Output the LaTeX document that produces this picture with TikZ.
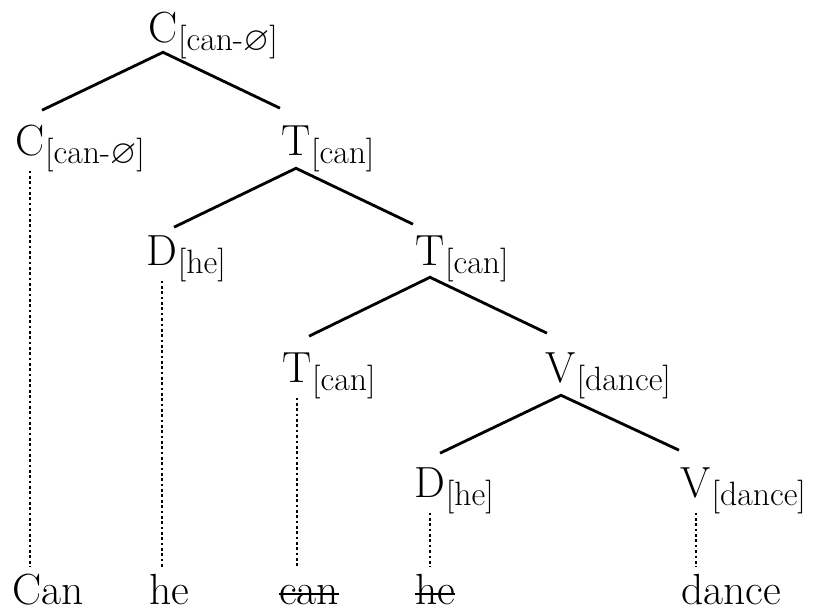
\documentclass[tikz,border=0pt]{standalone}
\usepackage{amsmath,amssymb}
\usepackage{tikz}
\usetikzlibrary{calc}
\newcommand{\struck}[1]{\sbox0{#1}\rlap{\usebox0}\rule[0.5ex]{\wd0}{1.4pt}}

\begin{document}
\begin{tikzpicture}[
  x=0.025cm, y=-0.025cm,
  head/.style={inner sep=0pt, anchor=base, text height=21pt, text depth=0pt,
               font=\fontsize{31}{36}\selectfont},
  feat/.style={inner sep=0pt, anchor=base west, font=\fontsize{24}{28}\selectfont},
  word/.style={inner sep=0pt, anchor=base west, text height=21pt, text depth=0pt,
               font=\fontsize{31}{36}\selectfont},
  branch/.style={line width=2pt, line join=miter},
  vline/.style={line width=2.1pt, dash pattern=on 1.9pt off 1.9pt,
                shorten <=11pt, shorten >=5pt},
]
\useasboundingbox (0,0) rectangle (817,612);
\node[head] (c0) at (163,42) {C};
\node[feat] (c0s) at ([yshift=-6pt]c0.base east) {[can-$\varnothing$]};
\node[head] (c1) at (30,155) {C};
\node[feat] (c1s) at ([yshift=-6pt]c1.base east) {[can-$\varnothing$]};
\node[head] (t1) at (296,155) {T};
\node[feat] (t1s) at ([yshift=-6pt]t1.base east) {[can]};
\node[head] (d1) at (162,265) {D};
\node[feat] (d1s) at ([yshift=-6pt]d1.base east) {[he]};
\node[head] (t2) at (430,265) {T};
\node[feat] (t2s) at ([yshift=-6pt]t2.base east) {[can]};
\node[head] (t3) at (297,382) {T};
\node[feat] (t3s) at ([yshift=-6pt]t3.base east) {[can]};
\node[head] (v1) at (561,382) {V};
\node[feat] (v1s) at ([yshift=-6pt]v1.base east) {[dance]};
\node[head] (d2) at (430,497) {D};
\node[feat] (d2s) at ([yshift=-6pt]d2.base east) {[he]};
\node[head] (v2) at (696,497) {V};
\node[feat] (v2s) at ([yshift=-6pt]v2.base east) {[dance]};
\node[word] (w1) at (12,604) {Can};
\node[word] (w2) at (149,604) {he};
\node[word] (w3) at (279,604) {\struck{can}};
\node[word] (w4) at (415,604) {\struck{he}};
\node[word] (w5) at (681,604) {dance};
\draw[branch] ($(c1.north)+(12,-15)$) -- ($(c0.south)+(0,10)$) -- ($(t1.north)+(-16,-17)$);
\draw[branch] ($(d1.north)+(12,-8)$) -- ($(t1.south)+(0,13)$) -- ($(t2.north)+(-17,-11)$);
\draw[branch] ($(t3.north)+(12,-16)$) -- ($(t2.south)+(0,12)$) -- ($(v1.north)+(-14,-19)$);
\draw[branch] ($(d2.north)+(10,-14)$) -- ($(v1.south)+(0,13)$) -- ($(v2.north)+(-17,-17)$);
\draw[vline] (c1.south) -- (c1.south |- w1.north);
\draw[vline] (d1.south) -- (d1.south |- w2.north);
\draw[vline] (t3.south) -- (t3.south |- w3.north);
\draw[vline] (d2.south) -- (d2.south |- w4.north);
\draw[vline] (v2.south) -- (v2.south |- w5.north);
\end{tikzpicture}
\end{document}
